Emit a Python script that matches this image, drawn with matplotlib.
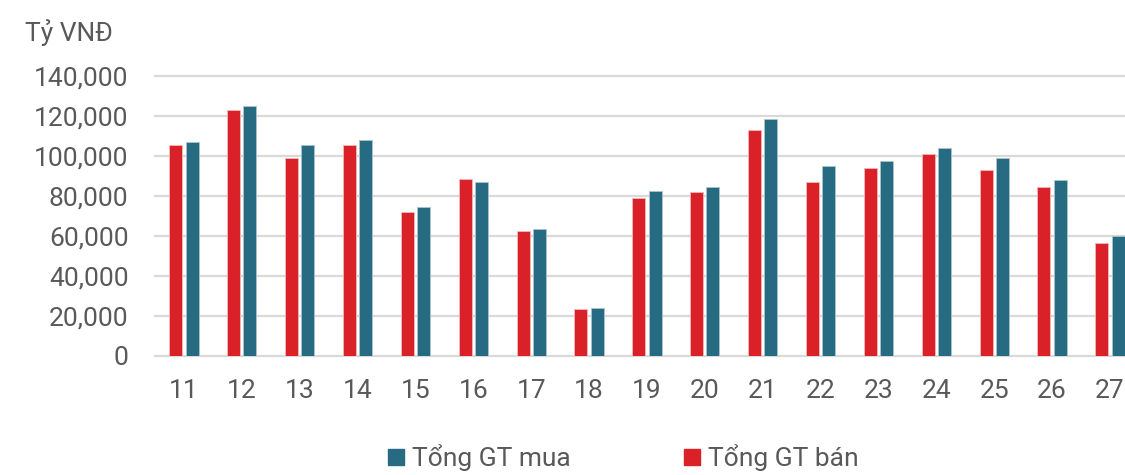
import numpy as np
import matplotlib.pyplot as plt
from matplotlib.patches import Patch

days = ['11', '12', '13', '14', '15', '16', '17', '18', '19', '20', '21', '22', '23', '24', '25', '26', '27']
ban = [105200, 123100, 98800, 105200, 72100, 88600, 62400, 23400, 78900, 81700, 112800, 87100, 94100, 100900, 92800, 84400, 56300]
mua = [107100, 124800, 105400, 107900, 74200, 86700, 63400, 23700, 82300, 84300, 118400, 95100, 97200, 104100, 98800, 87700, 59800]

red = '#DA2128'
teal = '#276B82'
grey = '#595959'

plt.rcParams['font.family'] = ['Roboto', 'DejaVu Sans']

fig = plt.figure(figsize=(11.25, 4.75), dpi=100)
ax = fig.add_axes([155 / 1125, 1 - 355.5 / 475, 1 - 155 / 1125, (355.5 - 76) / 475])

x = np.arange(len(days))
w = 0.225
ax.bar(x - 0.14, ban, w, color=red, edgecolor='#F2B8BA', linewidth=0.6, zorder=3)
ax.bar(x + 0.14, mua, w, color=teal, edgecolor='#A9C4CE', linewidth=0.6, zorder=3)

ax.set_xlim(-0.5, 16.26)
ax.set_ylim(0, 140000)
ax.set_yticks(np.arange(0, 140001, 20000))
ax.yaxis.set_major_formatter(plt.FuncFormatter(lambda v, p: f'{int(v):,}'))
ax.set_xticks(x)
ax.set_xticklabels(days)
ax.tick_params(axis='both', length=0, labelsize=19, colors=grey)
ax.tick_params(axis='y', pad=19)
ax.tick_params(axis='x', pad=17)
ax.grid(axis='y', color='#D9D9D9', linewidth=1.6, zorder=0)
for gl in ax.get_ygridlines():
    gl.set_clip_on(False)
for s in ax.spines.values():
    s.set_visible(False)

fig.text(25 / 1125, 1 - 32 / 475, 'Tỷ VNĐ', fontsize=19, color=grey, va='center', ha='left')

handles = [Patch(color=teal, label='Tổng GT mua'), Patch(color=red, label='Tổng GT bán')]
fig.legend(handles=handles, loc='center', bbox_to_anchor=(0.554, 0.036), ncol=2, frameon=False,
           fontsize=19, labelcolor=grey, handlelength=0.6, handleheight=0.6, handletextpad=0.3,
           columnspacing=4.3, borderpad=0.1)

fig.savefig('out.png', dpi=100)
